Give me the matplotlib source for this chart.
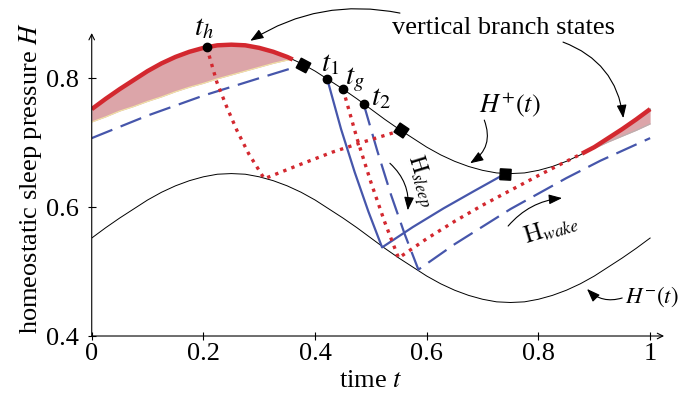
import numpy as np
import matplotlib.pyplot as plt

plt.rcParams['font.family'] = ['Liberation Serif', 'DejaVu Serif']
plt.rcParams['mathtext.fontset'] = 'stix'

# sample times for the two threshold curves (step 1/40)
t_grid = np.arange(41) / 40
# upper threshold H+(t)
h_upper = [0.752, 0.768, 0.783, 0.797, 0.811, 0.823, 0.833, 0.841, 0.847, 0.851,
           0.852, 0.851, 0.847, 0.841, 0.833, 0.823, 0.811, 0.797, 0.783, 0.768,
           0.752, 0.736, 0.721, 0.707, 0.693, 0.681, 0.671, 0.663, 0.657, 0.653,
           0.652, 0.653, 0.657, 0.663, 0.671, 0.681, 0.693, 0.707, 0.721, 0.736,
           0.752]
# lower threshold H-(t)
h_lower = [0.552, 0.568, 0.583, 0.597, 0.611, 0.623, 0.633, 0.641, 0.647, 0.651,
           0.652, 0.651, 0.647, 0.641, 0.633, 0.623, 0.611, 0.597, 0.583, 0.568,
           0.552, 0.536, 0.521, 0.507, 0.493, 0.481, 0.471, 0.463, 0.457, 0.453,
           0.452, 0.453, 0.457, 0.463, 0.471, 0.481, 0.493, 0.507, 0.521, 0.536,
           0.552]

# vertical branch states (shaded band under H+)
band1_t = [0, 0.025, 0.05, 0.075, 0.1, 0.125, 0.15, 0.175, 0.2, 0.225,
           0.25, 0.275, 0.3, 0.325, 0.35, 0.36]
band1_top = [0.752, 0.768, 0.783, 0.797, 0.811, 0.823, 0.833, 0.841, 0.847, 0.851,
             0.852, 0.851, 0.847, 0.841, 0.833, 0.829]
band1_bot = [0.732, 0.740, 0.749, 0.756, 0.764, 0.771, 0.779, 0.786, 0.792, 0.799,
             0.805, 0.811, 0.817, 0.823, 0.828, 0.829]
band2_t = [0.878, 0.9, 0.925, 0.95, 0.975, 1.0]
band2_top = [0.683, 0.693, 0.707, 0.721, 0.736, 0.752]
band2_bot = [0.683, 0.691, 0.701, 0.710, 0.719, 0.729]

# blue solid trajectory (sleep at t1, wake on H-)
solid_t = [0.422, 0.4465, 0.471, 0.4955, 0.52, 0.575, 0.63, 0.685, 0.741]
solid_h = [0.798, 0.721, 0.654, 0.593, 0.5375, 0.569, 0.598, 0.625, 0.652]

# blue dashed trajectory
dashA_t = [0, 0.1, 0.2, 0.3, 0.379]
dashA_h = [0.707, 0.742, 0.773, 0.800, 0.821]
dashB_t = [0.487, 0.5115, 0.536, 0.5605, 0.585, 0.65, 0.75, 0.85, 0.911, 1.0]
dashB_h = [0.760, 0.687, 0.619, 0.558, 0.503, 0.5425, 0.597, 0.645, 0.672, 0.707]

# red dotted trajectories
dot1_t = [0.206, 0.224, 0.242, 0.26, 0.281, 0.309, 0.37, 0.43, 0.49, 0.554]
dot1_h = [0.848, 0.794, 0.755, 0.719, 0.683, 0.644, 0.665, 0.685, 0.702, 0.719]
dot2_t = [0.45, 0.4749, 0.4998, 0.5246, 0.5495, 0.6, 0.65, 0.7, 0.75, 0.8, 0.85, 0.878]
dot2_h = [0.783, 0.707, 0.639, 0.577, 0.521, 0.551, 0.578, 0.603, 0.626, 0.649, 0.671, 0.683]

# labelled points on H+
dots_t = [0.206, 0.422, 0.45, 0.487]
dots_h = [0.848, 0.798, 0.783, 0.760]
dot_names = ['$t_h$', '$t_1$', '$t_g$', '$t_2$']
squares_t = [0.379, 0.554, 0.741]
squares_h = [0.821, 0.719, 0.652]
square_tilt = [-28, -34, -3]

RED = '#d3282f'
BLUE = '#4656ab'
PINK = '#dca5a9'

fig = plt.figure(figsize=(6.83, 3.96), dpi=100)
ax = fig.add_axes([0.1343, 0.1515, 0.838, 0.765])
ax.set_xlim(0, 1.025)
ax.set_ylim(0.4, 0.87)

# shaded vertical branch
ax.fill_between(band1_t, band1_bot, band1_top, color=PINK, lw=0)
ax.fill_between(band2_t, band2_bot, band2_top, color=PINK, lw=0)
ax.plot(band1_t, band1_bot, color='#f2e6a6', lw=0.8)
ax.plot(band2_t, band2_bot, color='#b9b0b0', lw=0.8)

# thresholds
ax.plot(t_grid, h_upper, color='k', lw=0.7)
ax.plot(t_grid, h_lower, color='k', lw=0.7)

# trajectories
ax.plot(solid_t, solid_h, color=BLUE, lw=1.6)
ax.plot(dashA_t, dashA_h, color=BLUE, lw=1.6, ls=(0, (10, 4)))
ax.plot(dashB_t, dashB_h, color=BLUE, lw=1.6, ls=(0, (10, 4)))
ax.plot(dot1_t, dot1_h, color=RED, lw=2.4, ls=(0, (1, 1.6)))
ax.plot(dot2_t, dot2_h, color=RED, lw=2.4, ls=(0, (1, 1.6)))

ax.plot(band1_t, band1_top, color=RED, lw=3.2, solid_capstyle='butt')
ax.plot(band2_t, band2_top, color=RED, lw=3.2, solid_capstyle='butt')

ax.plot(dots_t, dots_h, 'o', color='k', ms=6, zorder=5)
for x, y, a in zip(squares_t, squares_h, square_tilt):
    ax.plot(x, y, marker=(4, 0, 45 + a), color='k', ms=11, zorder=5)

name_pos = [(0.201, 0.878), (0.427, 0.822), (0.472, 0.797), (0.518, 0.769)]
for name, (x, y) in zip(dot_names, name_pos):
    ax.text(x, y, name, fontsize=21, ha='center', va='center', clip_on=False)

# axes with arrow heads
for s in ax.spines.values():
    s.set_visible(False)
ax.annotate('', xy=(1.025, 0.4), xytext=(0, 0.4), annotation_clip=False,
            arrowprops=dict(arrowstyle='->', lw=0.8, color='k', shrinkA=0, shrinkB=0))
ax.annotate('', xy=(0, 0.87), xytext=(0, 0.4), annotation_clip=False,
            arrowprops=dict(arrowstyle='->', lw=0.8, color='k', shrinkA=0, shrinkB=0))
ax.set_xticks([0, 0.2, 0.4, 0.6, 0.8, 1])
ax.set_xticklabels(['0', '0.2', '0.4', '0.6', '0.8', '1'])
ax.set_yticks([0.4, 0.6, 0.8])
ax.set_yticklabels(['0.4', '0.6', '0.8'])
ax.tick_params(direction='inout', length=6, width=0.8, labelsize=19)
ax.tick_params(axis='x', pad=2)
ax.tick_params(axis='y', pad=6)

ax.text(0.499, 0.330, 'time $t$', fontsize=19, ha='center', va='center', clip_on=False)
ax.text(-0.1105, 0.645, 'homeostatic sleep pressure $H$', fontsize=19, rotation=90,
        ha='center', va='center', clip_on=False)

# annotations
def arrow(start, tip, rad):
    ax.annotate('', xy=tip, xytext=start, annotation_clip=False,
                arrowprops=dict(arrowstyle='-|>,head_length=0.8,head_width=0.3',
                                color='k', lw=0.8, shrinkA=0, shrinkB=0,
                                mutation_scale=10,
                                connectionstyle=f'arc3,rad={rad}'))

ax.text(0.737, 0.878, 'vertical branch states', fontsize=19, ha='center', va='center',
        clip_on=False)
arrow((0.552, 0.901), (0.284, 0.858), 0.2)
arrow((0.844, 0.856), (0.952, 0.738), -0.3)

ax.text(0.748, 0.758, '$H^{+}(t)$', fontsize=19, ha='center', va='center')
arrow((0.703, 0.735), (0.6776, 0.668), -0.4)

ax.text(0.955, 0.4605, '$H^{-}(t)$', fontsize=16.5, ha='left', va='center', clip_on=False)
arrow((0.950, 0.459), (0.887, 0.473), -0.3)

ax.text(0.588, 0.640, r'$\mathrm{H}_{sleep}$', fontsize=17, rotation=-73,
        ha='center', va='center')
arrow((0.534, 0.668), (0.566, 0.595), -0.25)

ax.text(0.8226, 0.566, r'$\mathrm{H}_{wake}$', fontsize=18, rotation=17,
        ha='center', va='center')
arrow((0.7457, 0.5706), (0.8423, 0.614), -0.2)

fig.savefig('out.png', dpi=100)
